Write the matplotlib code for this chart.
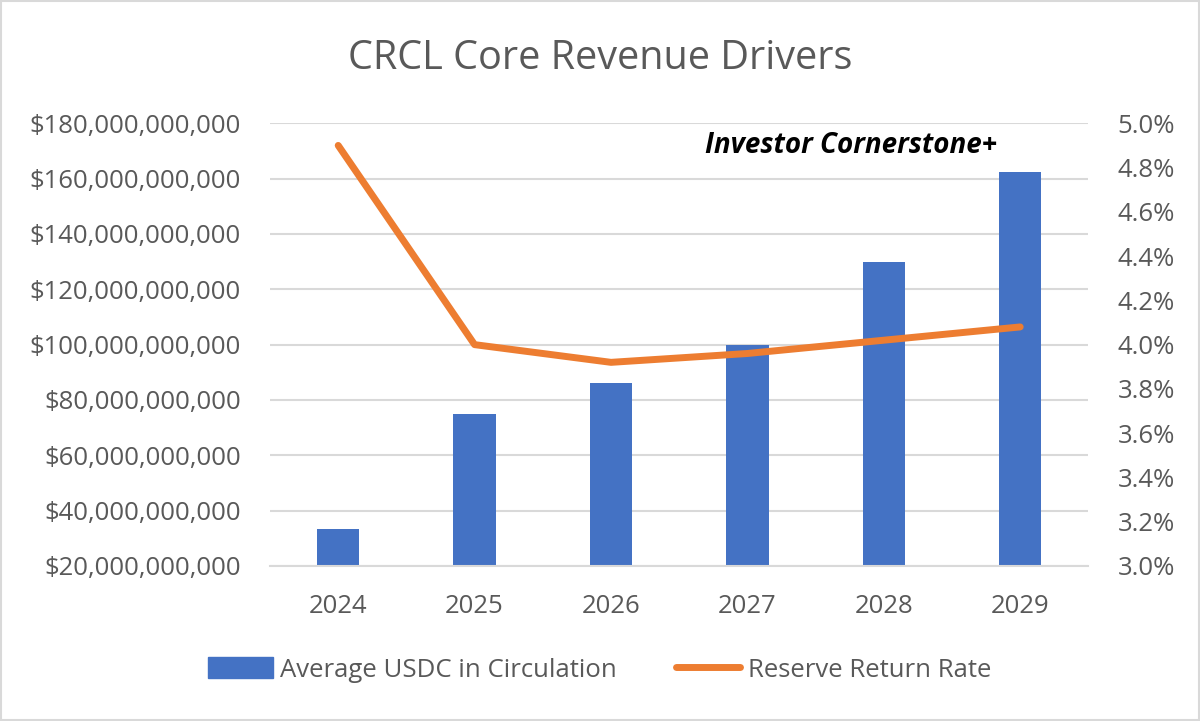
import matplotlib
matplotlib.use("Agg")
import matplotlib.pyplot as plt
from matplotlib.ticker import FuncFormatter, MultipleLocator
from matplotlib.patches import Rectangle
from matplotlib.lines import Line2D

years = ["2024", "2025", "2026", "2027", "2028", "2029"]
usdc = [33.3e9, 74.8e9, 86.0e9, 100.0e9, 130.0e9, 162.5e9]
rate = [0.0490, 0.0400, 0.0392, 0.0396, 0.0402, 0.0408]

plt.rcParams['font.family'] = ['Open Sans', 'DejaVu Sans']
GRAY = '#595959'
BLUE = '#4472C4'
ORANGE = '#ED7D31'

fig = plt.figure(figsize=(12, 7.21), dpi=100)
fig.patches.append(Rectangle((0.001, 0.001), 0.998, 0.997, transform=fig.transFigure,
                             fill=False, edgecolor='#D9D9D9', linewidth=1.5))

ax = fig.add_axes([0.225, 0.215, 0.682, 0.614])
x = range(len(years))
ax.bar(x, usdc, width=0.31, color=BLUE, zorder=2)
ax.set_xlim(-0.5, 5.5)
ax.set_ylim(20e9, 180e9)
ax.yaxis.set_major_locator(MultipleLocator(20e9))
ax.yaxis.set_major_formatter(FuncFormatter(lambda v, p: "${:,.0f}".format(v)))
ax.grid(axis='y', color='#D9D9D9', linewidth=1.5, zorder=0)
ax.set_axisbelow(True)
for s in ['top', 'right', 'left']:
    ax.spines[s].set_visible(False)
ax.spines['bottom'].set_color('#D9D9D9')
ax.spines['bottom'].set_linewidth(1.5)
ax.set_xticks(list(x))
ax.set_xticklabels(years)
ax.tick_params(axis='both', length=0, labelsize=18.5, labelcolor=GRAY)
ax.tick_params(axis='y', pad=21)
ax.tick_params(axis='x', pad=20)

ax2 = ax.twinx()
ax2.plot(list(x), rate, color=ORANGE, linewidth=5, solid_capstyle='round', zorder=3)
ax2.set_ylim(0.03, 0.05)
ax2.yaxis.set_major_locator(MultipleLocator(0.002))
ax2.yaxis.set_major_formatter(FuncFormatter(lambda v, p: "{:.1f}%".format(v * 100)))
for s in ['top', 'right', 'left', 'bottom']:
    ax2.spines[s].set_visible(False)
ax2.tick_params(axis='y', length=0, labelsize=18.5, labelcolor=GRAY, pad=21)

fig.text(0.5, 0.918, "CRCL Core Revenue Drivers", ha='center', va='center',
         fontsize=28.5, color=GRAY)
fig.text(0.709, 0.798, "Investor Cornerstone+", ha='center', va='center',
         fontsize=20, fontweight='bold', fontstyle='italic', color='black')

handles = [Rectangle((0, 0), 1, 1, color=BLUE),
           Line2D([0], [0], color=ORANGE, linewidth=5, solid_capstyle='round')]
fig.legend(handles, ["Average USDC in Circulation", "Reserve Return Rate"],
           loc='center', bbox_to_anchor=(0.5, 0.071), ncol=2, frameon=False,
           fontsize=18.5, labelcolor=GRAY, handlelength=2.5, handleheight=0.9,
           columnspacing=2.3, handletextpad=0.3)

fig.savefig("out.png", dpi=100)
